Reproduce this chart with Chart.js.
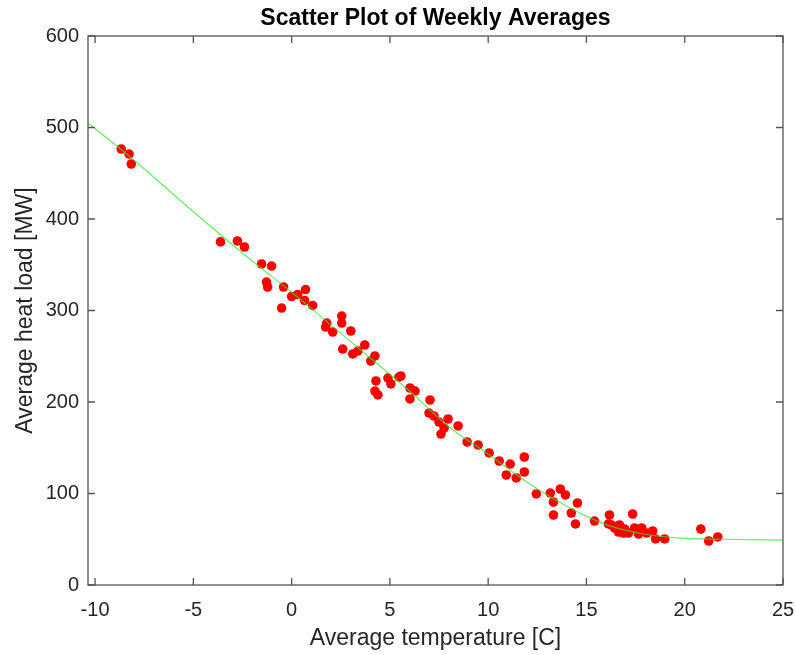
<!DOCTYPE html>
<html>
<head>
<meta charset="utf-8">
<title>Scatter Plot of Weekly Averages</title>
<script src="https://cdn.jsdelivr.net/npm/chart.js@4"></script>
<style>
  body { margin: 0; background: #fff; }
  canvas { display: block; }
</style>
</head>
<body>
<canvas id="grafico" width="796" height="655"></canvas>
<script>
// weekly averages
var tempC = [-8.67, -8.27, -8.16, -3.62, -2.76, -2.40, -1.53, -1.02, -1.28, -1.22,
    -0.41, -0.51, 0.00, 0.31, 0.71, 0.66, 1.07, 1.79, 1.73, 2.09,
    2.55, 2.55, 3.01, 2.60, 3.11, 3.37, 3.72, 4.03, 4.24, 4.29,
    4.24, 4.39, 4.90, 5.05, 5.46, 6.02, 6.28, 6.02, 5.56, 7.04,
    6.99, 7.24, 7.50, 7.96, 7.76, 7.60, 8.47, 8.93, 9.49, 10.05,
    10.56, 11.12, 11.84, 11.84, 10.92, 11.43, 12.45, 13.16, 13.32, 13.67,
    13.93, 14.54, 14.23, 13.32, 14.44, 15.41, 16.17, 16.12, 17.35, 16.43,
    16.68, 16.63, 16.94, 17.14, 17.45, 17.65, 17.81, 18.06, 18.37, 18.52,
    18.98, 20.82, 21.22, 21.68, 16.27, 16.89]
var heatMW = [476.5, 471.0, 460.1, 375.0, 376.0, 369.4, 350.8, 348.6, 331.1, 325.7,
    325.7, 302.7, 315.3, 317.5, 322.9, 310.9, 305.5, 286.3, 281.9, 276.5,
    293.9, 286.3, 277.6, 257.9, 252.5, 255.7, 262.3, 244.8, 250.3, 223.0,
    212.0, 207.7, 226.2, 219.7, 227.3, 215.3, 212.0, 203.3, 228.4, 202.2,
    187.9, 184.7, 178.1, 181.4, 171.6, 165.0, 173.8, 156.3, 153.0, 144.3,
    135.5, 132.2, 139.9, 123.5, 120.2, 117.0, 99.5, 100.5, 90.7, 104.9,
    98.4, 89.6, 78.7, 76.5, 66.7, 69.9, 76.5, 66.7, 77.6, 62.3,
    65.6, 57.9, 61.2, 56.8, 62.3, 55.7, 62.3, 56.8, 59.0, 50.3,
    50.3, 61.2, 48.1, 52.5, 65.6, 56.8]

// fitted curve
var fitTemp = [-10.36, -8, -5, -2, 0, 2, 4, 6, 8, 10, 12, 14, 16, 18, 20, 22, 25]
var fitLoad = [505, 464, 408, 354, 320, 284, 248, 212, 173, 143, 112, 86, 66, 55.5, 51, 50, 49]

var xTicks = [-10, -5, 0, 5, 10, 15, 20, 25]
var yTicks = [0, 100, 200, 300, 400, 500, 600]

var corEixo = '#262626'
var fonte = '"Liberation Sans", Arial, Helvetica, sans-serif'

function junta(xs, ys){
    var pts = []
    for(let i = 0; i < xs.length; i++){
        pts.push({x: xs[i], y: ys[i]})
    }
    return pts
}

// MATLAB style box with ticks pointing inwards, plus the title
var moldura = {
    id: 'moldura',
    afterDraw(chart){
        const ctx = chart.ctx
        const a = chart.chartArea
        const sx = chart.scales.x
        const sy = chart.scales.y
        const t = 7
        ctx.save()
        ctx.strokeStyle = '#555'
        ctx.lineWidth = 1.3
        ctx.strokeRect(a.left, a.top, a.right - a.left, a.bottom - a.top)
        ctx.beginPath()
        xTicks.forEach(function(v){
            const px = sx.getPixelForValue(v)
            ctx.moveTo(px, a.bottom); ctx.lineTo(px, a.bottom - t)
            ctx.moveTo(px, a.top); ctx.lineTo(px, a.top + t)
        })
        yTicks.forEach(function(v){
            const py = sy.getPixelForValue(v)
            ctx.moveTo(a.left, py); ctx.lineTo(a.left + t, py)
            ctx.moveTo(a.right, py); ctx.lineTo(a.right - t, py)
        })
        ctx.stroke()
        ctx.fillStyle = '#000'
        ctx.font = 'bold 23px ' + fonte
        ctx.textAlign = 'center'
        ctx.textBaseline = 'middle'
        ctx.fillText('Scatter Plot of Weekly Averages', (a.left + a.right) / 2, 19)
        ctx.restore()
    }
}

const ctx = document.getElementById('grafico').getContext('2d')
const grafico = new Chart(ctx, {
    type: 'scatter',
    data: {
        datasets: [{
            type: 'line',
            label: 'fit',
            data: junta(fitTemp, fitLoad),
            borderColor: 'rgba(40, 235, 40, 0.75)',
            borderWidth: 1.2,
            pointRadius: 0,
            fill: false,
            cubicInterpolationMode: 'monotone',
            order: 0
        }, {
            label: 'weekly',
            data: junta(tempC, heatMW),
            backgroundColor: '#ff0000',
            borderWidth: 0,
            pointRadius: 4.8,
            order: 1
        }]
    },
    options: {
        responsive: false,
        animation: false,
        devicePixelRatio: 1,
        layout: { padding: { top: 36, right: 13, left: 0, bottom: 0 } },
        plugins: {
            legend: { display: false },
            tooltip: { enabled: false }
        },
        scales: {
            x: {
                type: 'linear',
                min: -10.36,
                max: 25,
                afterBuildTicks: function(axis){ axis.ticks = xTicks.map(v => ({value: v})) },
                afterFit: function(s){ s.height = 70; s.paddingLeft = 0; s.paddingRight = 0 },
                grid: { display: false, drawTicks: false },
                border: { display: false },
                ticks: { color: corEixo, font: { family: fonte, size: 20 }, padding: 13, maxRotation: 0 },
                title: {
                    display: true,
                    text: 'Average temperature [C]',
                    color: corEixo,
                    font: { family: fonte, size: 23 },
                    padding: { top: 0, bottom: 3 }
                }
            },
            y: {
                type: 'linear',
                min: 0,
                max: 600,
                afterBuildTicks: function(axis){ axis.ticks = yTicks.map(v => ({value: v})) },
                afterFit: function(s){ s.width = 88; s.paddingTop = 0; s.paddingBottom = 0 },
                grid: { display: false, drawTicks: false },
                border: { display: false },
                ticks: { color: corEixo, font: { family: fonte, size: 20 }, padding: 9 },
                title: {
                    display: true,
                    text: 'Average heat load [MW]',
                    color: corEixo,
                    font: { family: fonte, size: 23 },
                    padding: { top: 12, bottom: 0 }
                }
            }
        }
    },
    plugins: [moldura]
});
</script>
</body>
</html>
